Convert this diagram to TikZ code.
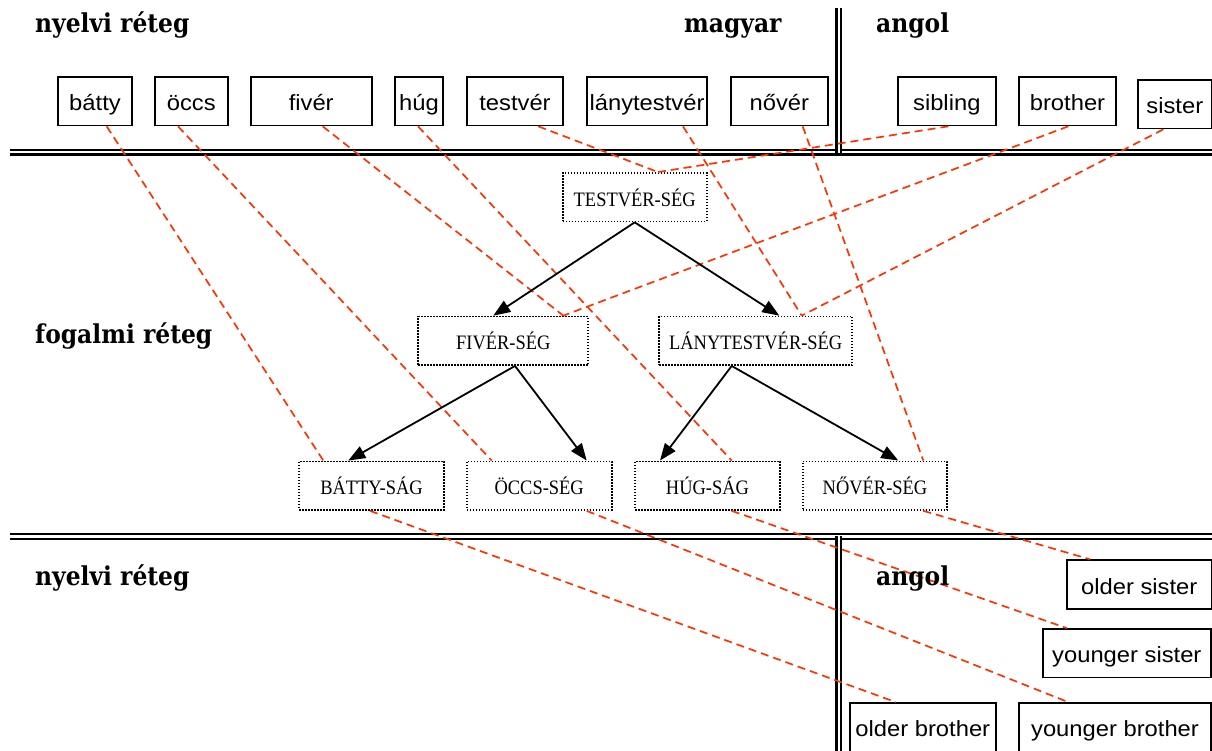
\documentclass[tikz,border=0pt]{standalone}
\usepackage{fontspec}
\usetikzlibrary{arrows.meta}
\newfontfamily\headfont{DejaVu Serif}[FakeStretch=0.9]
\newfontfamily\wordfont{Liberation Sans}[FakeStretch=1.08]
\newfontfamily\conceptfont{Liberation Serif}[FakeStretch=0.9]
\definecolor{linkred}{RGB}{255,51,0}

\begin{document}
\begin{tikzpicture}[x=1pt,y=-1pt,
  word/.style={draw, line width=1.8pt, minimum height=48.5pt, inner sep=0pt,
    font=\wordfont\fontsize{22}{26}\selectfont, text height=19pt, text depth=0pt},
  concept/.style={draw, line width=1.8pt, dash pattern=on 1.5pt off 1.5pt,
    minimum height=48.5pt, inner sep=0pt,
    font=\conceptfont\fontsize{20.5}{24}\selectfont, text height=18pt, text depth=0pt},
  head/.style={anchor=base west, inner sep=0pt,
    font=\headfont\bfseries\fontsize{26}{30}\selectfont},
  isa/.style={-{Triangle[length=17pt,width=13pt]}, line width=1.8pt},
  link/.style={draw=linkred, line width=1.7pt, dash pattern=on 8pt off 5pt},
  rule/.style={double, double distance=2.4pt, line width=2.2pt},
]
\useasboundingbox (0,0) rectangle (1212,751);

% layer separators
\draw[rule] (10,152.3) -- (1212,152.3);
\draw[rule] (10,536.6) -- (1212,536.6);
\draw[rule] (838.7,8) -- (838.7,153.3);
\draw[rule] (838.7,535.6) -- (838.7,770);

% Hungarian words
\node[word, minimum width=73.4pt]  (batty)   at (95,101.2)    {bátty};
\node[word, minimum width=72.7pt]  (occs)    at (191.3,101.2) {öccs};
\node[word, minimum width=121pt]   (fiver)   at (311.2,101.2) {fivér};
\node[word, minimum width=48pt]    (hug)     at (419,101.2)   {húg};
\node[word, minimum width=96.6pt]  (testver) at (515,101.2)   {testvér};
\node[word, minimum width=120.6pt] (lany)    at (647,101.2)   {lánytestvér};
\node[word, minimum width=96.7pt]  (nover)   at (779.3,101.2) {nővér};

% English words (top)
\node[word, minimum width=97.7pt]  (sibling) at (946.8,101.2)  {sibling};
\node[word, minimum width=97pt]    (brother) at (1067.5,101.2) {brother};
\node[word, minimum width=73.7pt]  (sister)  at (1174.8,104.2) {sister};

% English words (bottom)
\node[word, minimum width=145pt]   (osister)  at (1139.2,584.5) {older sister};
\node[word, minimum width=168.3pt] (ysister)  at (1126.8,653.3) {younger sister};
\node[word, minimum width=145.7pt] (obrother) at (922.8,727.3)  {older brother};
\node[word, minimum width=192pt]   (ybrother) at (1115,727.3)   {younger brother};

% concepts
\node[concept, minimum width=144pt]   (testvers) at (634.7,197.2) {TESTVÉR-SÉG};
\node[concept, minimum width=170pt]   (fivers)   at (503.3,340.8) {FIVÉR-SÉG};
\node[concept, minimum width=193.3pt] (lanys)    at (755.7,340.8) {LÁNYTESTVÉR-SÉG};
\node[concept, minimum width=145pt]   (battys)   at (371.5,485.7) {BÁTTY-SÁG};
\node[concept, minimum width=145pt]   (occss)    at (539.2,485.7) {ÖCCS-SÉG};
\node[concept, minimum width=145pt]   (hugs)     at (707.5,485.7) {HÚG-SÁG};
\node[concept, minimum width=144.6pt] (novers)   at (875,485.7)   {NŐVÉR-SÉG};

% word-to-concept links
\draw[link] ([xshift=11.7pt]batty.south)   -- ([xshift=-48.2pt]battys.north);
\draw[link] ([xshift=-13.3pt]occs.south)   -- ([xshift=-47.5pt]occss.north);
\draw[link] ([xshift=11.5pt]fiver.south)   -- ([xshift=60pt]fivers.north);
\draw[link] ([xshift=-1pt]hug.south)       -- ([xshift=24.2pt]hugs.north);
\draw[link] ([xshift=23.3pt]testver.south) -- ([xshift=23.3pt]testvers.north);
\draw[link] ([xshift=36pt]lany.south)      -- ([xshift=46pt]lanys.north);
\draw[link] ([xshift=23.4pt]nover.south)   -- ([xshift=48.3pt]novers.north);
\draw[link] ([xshift=1.5pt]sibling.south)  -- ([xshift=23.3pt]testvers.north);
\draw[link] ([xshift=0.8pt]brother.south)  -- ([xshift=60pt]fivers.north);
\draw[link] ([xshift=-11.5pt]sister.south) -- ([xshift=46pt]lanys.north);
\draw[link] ([xshift=-1.5pt]battys.south)  -- ([xshift=-27pt]obrother.north);
\draw[link] ([xshift=47.5pt]occss.south)   -- ([xshift=-46.7pt]ybrother.north);
\draw[link] ([xshift=24.2pt]hugs.south)    -- ([xshift=-60pt]ysister.north);
\draw[link] ([xshift=48.3pt]novers.south)  -- ([xshift=-49pt]osister.north);

% concept hierarchy
\draw[isa] (testvers.south) -- ([xshift=-10pt]fivers.north);
\draw[isa] (testvers.south) -- ([xshift=23.6pt]lanys.north);
\draw[isa] ([xshift=11.7pt]fivers.south) -- ([xshift=-23.2pt]battys.north);
\draw[isa] ([xshift=11.7pt]fivers.south) -- ([xshift=47.5pt]occss.north);
\draw[isa] ([xshift=-24pt]lanys.south) -- ([xshift=-47.5pt]hugs.north);
\draw[isa] ([xshift=-24pt]lanys.south) -- ([xshift=23.3pt]novers.north);

% layer headings
\node[head] (hlangtop) at (35,33)   {nyelvi réteg};
\node[head] (hhu)      at (684,33)  {magyar};
\node[head] (hentop)   at (876,33)  {angol};
\node[head] (hconcept) at (35,343)  {fogalmi réteg};
\node[head] (hlangbot) at (35,585)  {nyelvi réteg};
\node[head] (henbot)   at (876,585) {angol};
\end{tikzpicture}
\end{document}
